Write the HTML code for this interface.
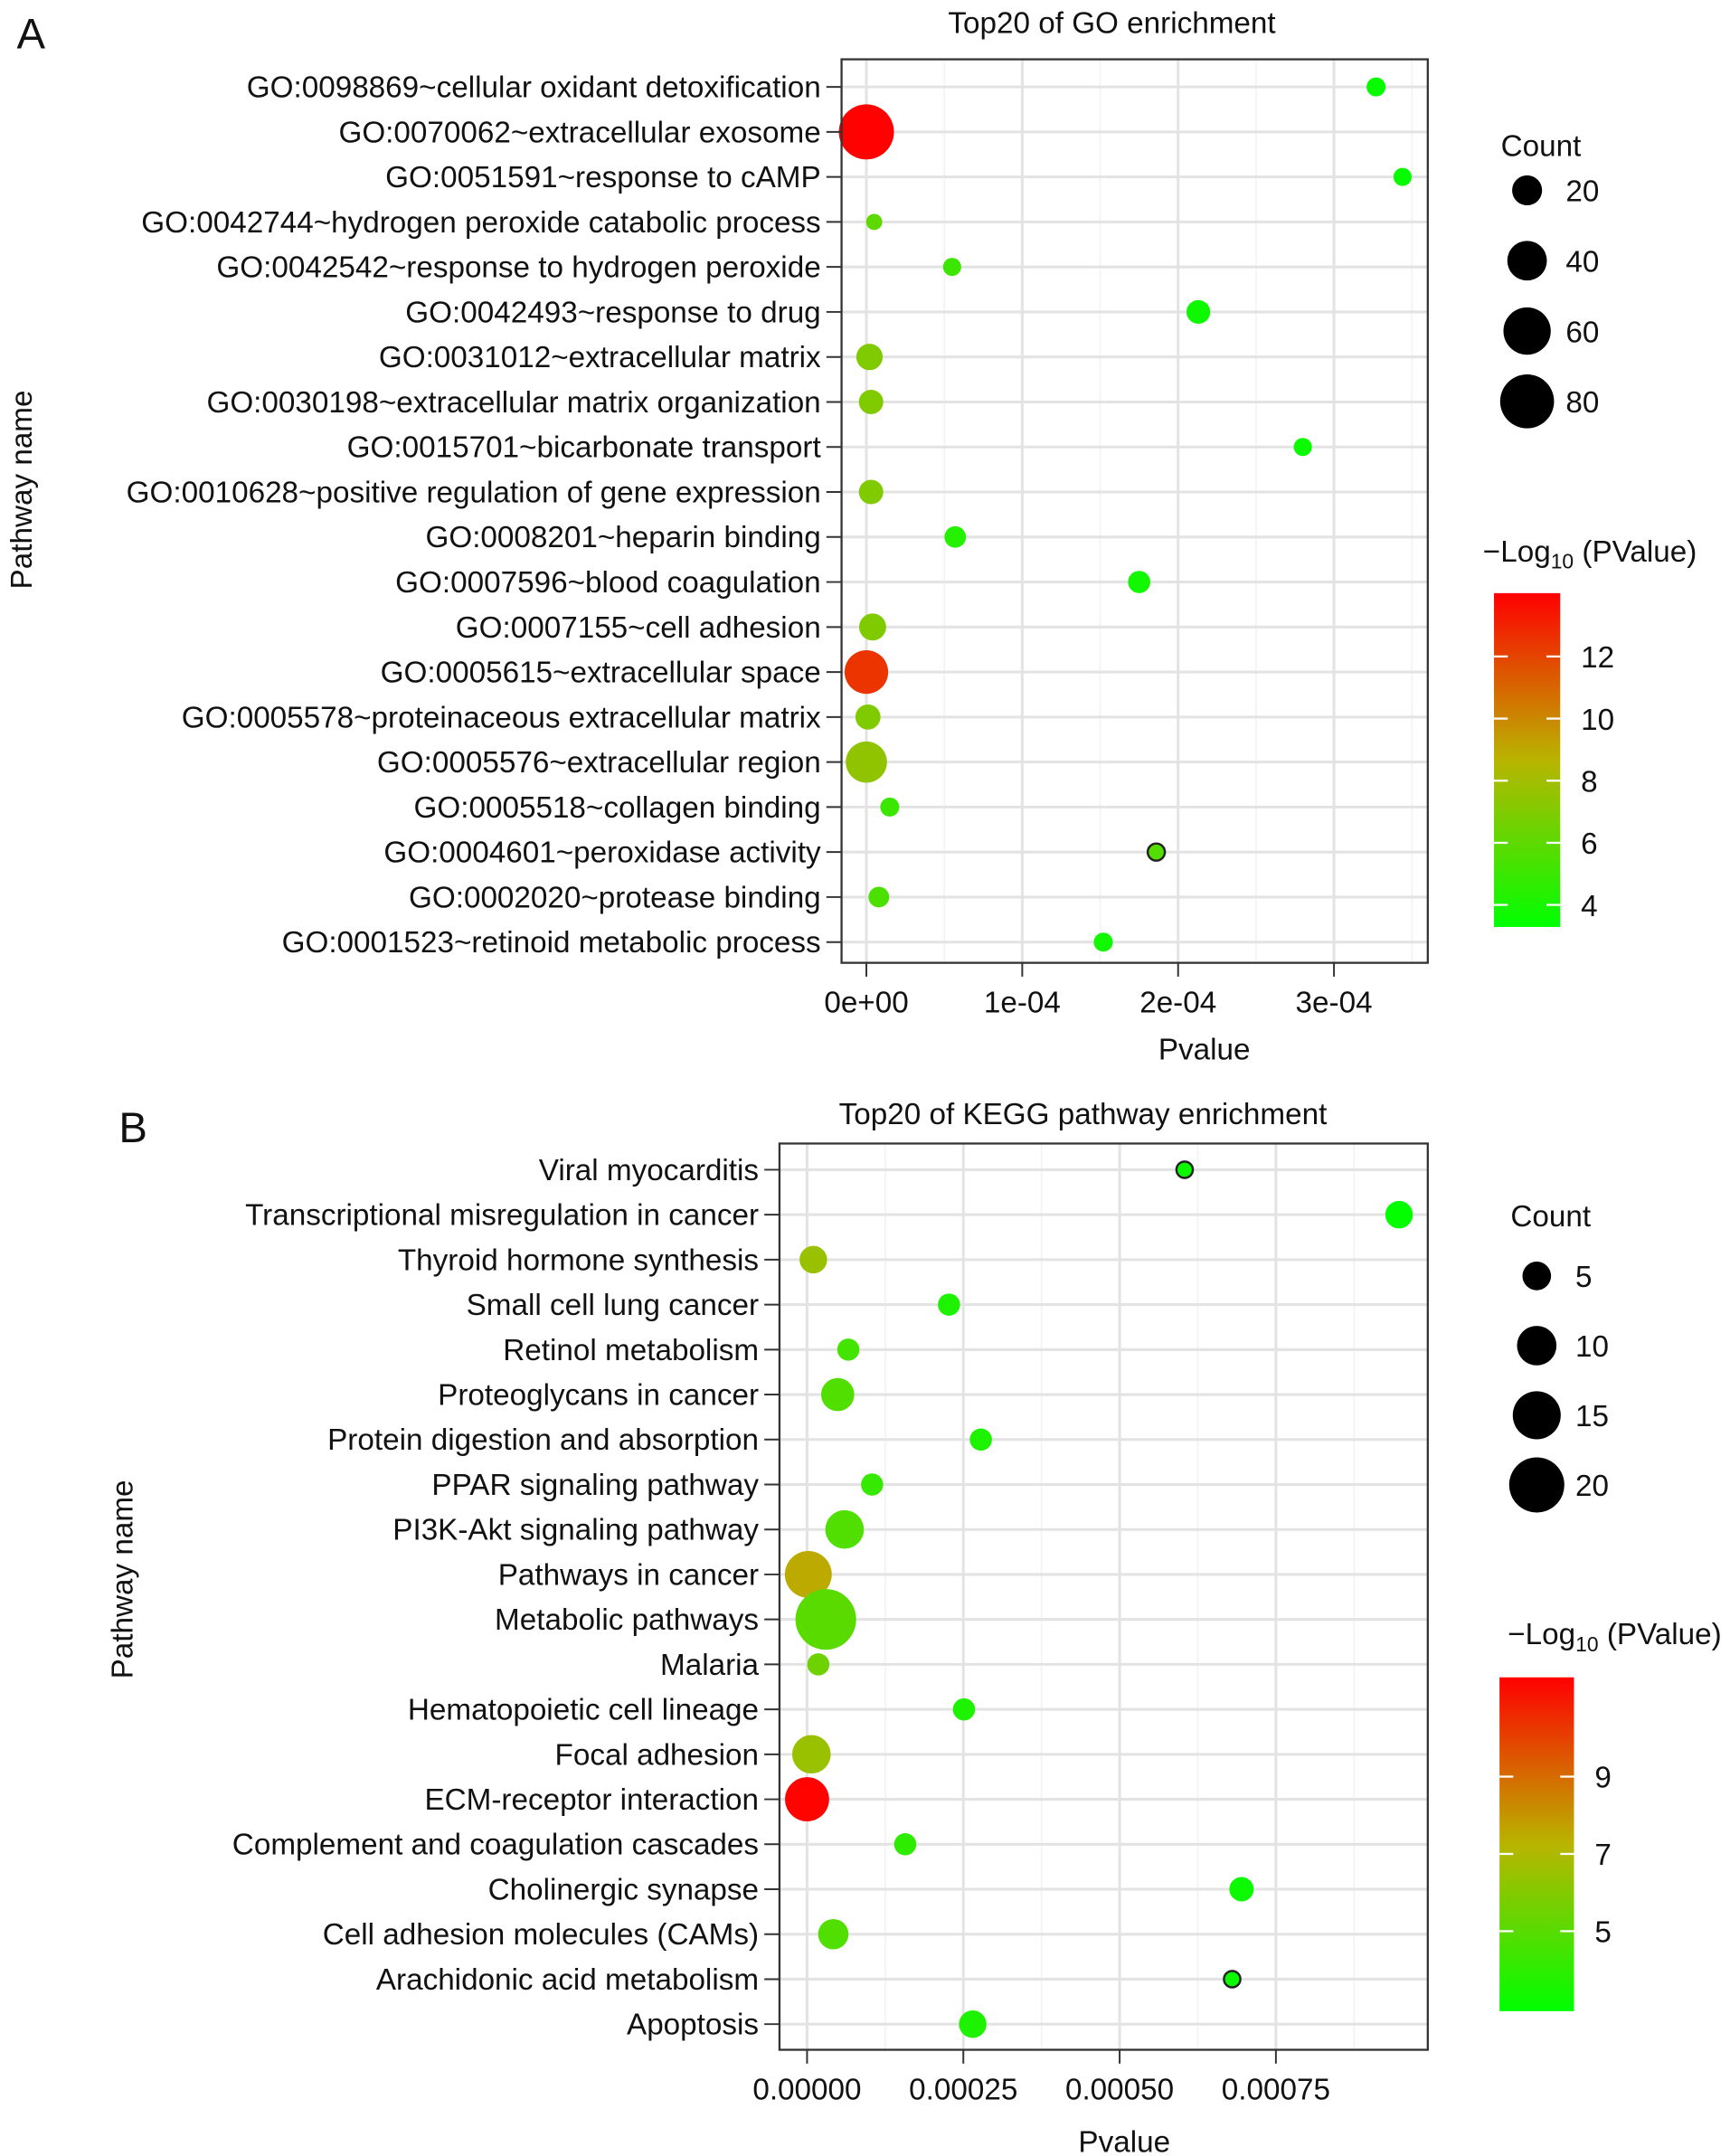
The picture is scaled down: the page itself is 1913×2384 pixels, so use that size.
<!DOCTYPE html>
<html><head><meta charset="utf-8">
<style>
html,body{margin:0;padding:0;background:#fff;}
svg{display:block;font-family:"Liberation Sans",Arial,sans-serif;}
</style></head>
<body>
<svg id="fig" width="1913" height="2384" viewBox="0 0 1254 1563" xmlns="http://www.w3.org/2000/svg"></svg>
<script>
// ---------- Panel A data ----------
const goTerms = ["GO:0098869~cellular oxidant detoxification","GO:0070062~extracellular exosome","GO:0051591~response to cAMP","GO:0042744~hydrogen peroxide catabolic process","GO:0042542~response to hydrogen peroxide","GO:0042493~response to drug","GO:0031012~extracellular matrix","GO:0030198~extracellular matrix organization","GO:0015701~bicarbonate transport","GO:0010628~positive regulation of gene expression","GO:0008201~heparin binding","GO:0007596~blood coagulation","GO:0007155~cell adhesion","GO:0005615~extracellular space","GO:0005578~proteinaceous extracellular matrix","GO:0005576~extracellular region","GO:0005518~collagen binding","GO:0004601~peroxidase activity","GO:0002020~protease binding","GO:0001523~retinoid metabolic process"];
const goPvalue = [3.27e-4,0.0,3.44e-4,0.05e-4,0.55e-4,2.13e-4,0.02e-4,0.03e-4,2.8e-4,0.03e-4,0.57e-4,1.75e-4,0.04e-4,0.0,0.01e-4,0.0,0.15e-4,1.86e-4,0.08e-4,1.52e-4];
const goCount = [4,84,3,1,3,10,14,11,3,11,7,8,15,50,12,44,4,2,6,4];
const goLogP = [3.5,14,3.5,6,5,3.7,7,7,3.6,7,4.3,3.8,7,12.5,7,7.5,5,5.7,5.5,3.8];
const goOutlined = [0,0,0,0,0,0,0,0,0,0,0,0,0,0,0,0,0,1,0,0];
const goXTicks = [0,1e-4,2e-4,3e-4];
const goXTickLabels = ["0e+00","1e-04","2e-04","3e-04"];
const goCountLegend = [20,40,60,80];
const goColorTicks = [4,6,8,10,12];

// ---------- Panel B data ----------
const keggTerms = ["Viral myocarditis","Transcriptional misregulation in cancer","Thyroid hormone synthesis","Small cell lung cancer","Retinol metabolism","Proteoglycans in cancer","Protein digestion and absorption","PPAR signaling pathway","PI3K-Akt signaling pathway","Pathways in cancer","Metabolic pathways","Malaria","Hematopoietic cell lineage","Focal adhesion","ECM-receptor interaction","Complement and coagulation cascades","Cholinergic synapse","Cell adhesion molecules (CAMs)","Arachidonic acid metabolism","Apoptosis"];
const keggPvalue = [0.000604,0.000947,0.00001,0.000227,0.000066,0.000049,0.000278,0.000104,0.00006,0.000002,0.00003,0.000018,0.000251,0.000007,0.0,0.000157,0.000695,0.000042,0.00068,0.000265];
const keggCount = [1.3,4.6,4.6,2.8,2.8,6.9,2.8,2.8,9.5,14.3,24.3,2.8,2.8,9.5,12.6,2.8,3.5,5.7,1.3,4.6];
const keggLogP = [3.2,3.0,6.5,3.6,4.5,4.8,3.6,4.2,4.8,7.5,5.0,5.5,3.6,6.5,11.5,4.0,3.2,4.8,3.2,3.6];
const keggOutlined = [1,0,0,0,0,0,0,0,0,0,0,0,0,0,0,0,0,0,1,0];
const keggXTicks = [0,0.00025,0.0005,0.00075];
const keggXTickLabels = ["0.00000","0.00025","0.00050","0.00075"];
const keggCountLegend = [5,10,15,20];
const keggColorTicks = [5,7,9];

const NS = "http://www.w3.org/2000/svg";
const svg = document.getElementById('fig');
const FS = 21.8;
function mk(tag, attrs, parent, text){
  const e = document.createElementNS(NS, tag);
  for (const k in attrs) e.setAttribute(k, attrs[k]);
  if (text !== undefined) e.textContent = text;
  (parent||svg).appendChild(e);
  return e;
}
function colorFor(t){
  t = Math.max(0, Math.min(1, t));
  let r,g,b=0;
  if (t < 0.5){ const u=t/0.5; r=0+185*u; g=255-75*u; }
  else { const u=(t-0.5)/0.5; r=185+70*u; g=180-180*u; }
  return `rgb(${Math.round(r)},${Math.round(g)},${b})`;
}

function panel(cfg){
  const g = mk('g', {});
  
  
  const {x0,x1,y0,y1,rowTop,rowStep,xZero,xPer} = cfg;
  const xs = v => xZero + v * xPer;
  const ys = i => rowTop + i * rowStep;
  mk('rect',{x:x0,y:y0,width:x1-x0,height:y1-y0,fill:'#fff'},g);
  const stepV = cfg.xTicks[1]-cfg.xTicks[0];
  for (let i=0;i<cfg.xTicks.length;i++){
    const xm = xs(cfg.xTicks[i]);
    const mid = xs(cfg.xTicks[i] + stepV/2);
    if (mid < x1) mk('line',{x1:mid,x2:mid,y1:y0,y2:y1,stroke:'#f2f2f2','stroke-width':1},g);
    const midb = xs(cfg.xTicks[i] - stepV/2);
    if (i===0 && midb > x0) mk('line',{x1:midb,x2:midb,y1:y0,y2:y1,stroke:'#f2f2f2','stroke-width':1},g);
    const gl = mk('line',{x1:xm,x2:xm,y1:y0,y2:y1,stroke:'#e3e3e3','stroke-width':2},g);
    
    
  }
  cfg.terms.forEach((t,i)=>{
    mk('line',{x1:x0,x2:x1,y1:ys(i),y2:ys(i),stroke:'#e3e3e3','stroke-width':2},g);
  });
  const lo = cfg.cMin, hi = cfg.cMax;
  cfg.terms.forEach((t,i)=>{
    const c = mk('circle',{cx:xs(cfg.pv[i]),cy:ys(i),r:cfg.rad(cfg.count[i]),fill:colorFor((cfg.logp[i]-lo)/(hi-lo))},g);
    if (cfg.outlined[i]){ c.setAttribute('stroke','#222'); c.setAttribute('stroke-width','1.6'); }
    
    
  });
  const br = mk('rect',{x:x0,y:y0,width:x1-x0,height:y1-y0,fill:'none',stroke:'#333','stroke-width':1.5},g);
  
  
  cfg.terms.forEach((t,i)=>{
    mk('line',{x1:x0-11,x2:x0,y1:ys(i),y2:ys(i),stroke:'#333','stroke-width':1.3},g);
    const tx = mk('text',{x:x0-15,y:ys(i)+7.5,'font-size':FS,'text-anchor':'end',fill:'#111'},g,t);
    
    
  });
  cfg.xTicks.forEach((v,i)=>{
    mk('line',{x1:xs(v),x2:xs(v),y1:y1,y2:y1+10,stroke:'#333','stroke-width':1.3},g);
    const tx = mk('text',{x:xs(v),y:y1+36,'font-size':FS,'text-anchor':'middle',fill:'#111'},g,cfg.xLabels[i]);
    
    
  });
  const xt = mk('text',{x:cfg.xTitle[0],y:cfg.xTitle[1],'font-size':FS,'text-anchor':'middle',fill:'#111'},g,'Pvalue');
  
  
  const yt = mk('text',{x:0,y:0,'font-size':FS,'text-anchor':'middle',fill:'#111',transform:`translate(${cfg.yTitle[0]},${cfg.yTitle[1]}) rotate(-90)`},g,'Pathway name');
  
  
  const tt = mk('text',{x:cfg.title[0],y:cfg.title[1],'font-size':FS,'text-anchor':'middle',fill:'#111'},g,cfg.titleText);
  
  
  const pl = mk('text',{x:cfg.letter[0],y:cfg.letter[1],'font-size':31,fill:'#111'},g,cfg.letterText);
  
  
  const L = cfg.sizeLeg;
  const lt = mk('text',{x:L.x-19,y:L.ty,'font-size':FS,fill:'#111'},g,'Count');
  
  
  cfg.countLegend.forEach((c,i)=>{
    const cy = L.y0 + i*L.step;
    const ci = mk('circle',{cx:L.x,cy:cy,r:cfg.rad(c),fill:'#000'},g);
    
    
    const lx = mk('text',{x:L.x+28,y:cy+8,'font-size':FS,fill:'#111'},g,String(c));
    
    
  });
  const C = cfg.cbar;
  const ct = mk('text',{x:C.tx,y:C.ty,'font-size':FS,fill:'#111'},g);
  
  
  mk('tspan',{},ct,'\u2212Log');
  mk('tspan',{dy:5,'font-size':15},ct,'10');
  mk('tspan',{dy:-5},ct,' (PValue)');
  const gid = 'grad'+cfg.letterText;
  const defs = mk('defs',{},g);
  const lg = mk('linearGradient',{id:gid,x1:0,y1:1,x2:0,y2:0},defs);
  for (let k=0;k<=10;k++) mk('stop',{offset:k/10,'stop-color':colorFor(k/10)},lg);
  const cb = mk('rect',{x:C.x,y:C.y0,width:C.w,height:C.y1-C.y0,fill:`url(#${gid})`},g);
  
  
  const cy = v => C.y1 - (v-lo)/(hi-lo)*(C.y1-C.y0);
  cfg.colorTicks.forEach(v=>{
    mk('line',{x1:C.x,x2:C.x+10,y1:cy(v),y2:cy(v),stroke:'#fff','stroke-width':1.5},g);
    mk('line',{x1:C.x+C.w-10,x2:C.x+C.w,y1:cy(v),y2:cy(v),stroke:'#fff','stroke-width':1.5},g);
    const lx = mk('text',{x:C.x+C.w+15,y:cy(v)+8,'font-size':FS,fill:'#111'},g,String(v));
    
    
  });
}

panel({name:'go-panel',letterText:'A',letter:[12,35],titleText:'Top20 of GO enrichment',title:[806,24],
  x0:610,x1:1035,y0:43,y1:698,rowTop:63,rowStep:32.63,xZero:628,xPer:113/1e-4,
  terms:goTerms,pv:goPvalue,count:goCount,logp:goLogP,outlined:goOutlined,
  xTicks:goXTicks,xLabels:goXTickLabels,xTitle:[873,768],yTitle:[23,355],
  rad:c=>Math.sqrt(30+4.4*c),cMin:3.29,cMax:14.04,
  sizeLeg:{x:1107,ty:113,y0:138,step:51},countLegend:goCountLegend,
  cbar:{tx:1075,ty:407,x:1083,w:48,y0:430,y1:672},colorTicks:goColorTicks});

panel({name:'kegg-panel',letterText:'B',letter:[86,828],titleText:'Top20 of KEGG pathway enrichment',title:[785,815],
  x0:565,x1:1035,y0:829,y1:1486,rowTop:848,rowStep:32.6,xZero:585,xPer:113.3/0.00025,
  terms:keggTerms,pv:keggPvalue,count:keggCount,logp:keggLogP,outlined:keggOutlined,
  xTicks:keggXTicks,xLabels:keggXTickLabels,xTitle:[815,1560],yTitle:[96,1145],
  rad:c=>Math.sqrt(10+19.5*c),cMin:2.93,cMax:11.57,
  sizeLeg:{x:1114,ty:889,y0:925,step:50.5},countLegend:keggCountLegend,
  cbar:{tx:1093,ty:1192,x:1087,w:54,y0:1216,y1:1458},colorTicks:keggColorTicks});
</script>
</body></html>
